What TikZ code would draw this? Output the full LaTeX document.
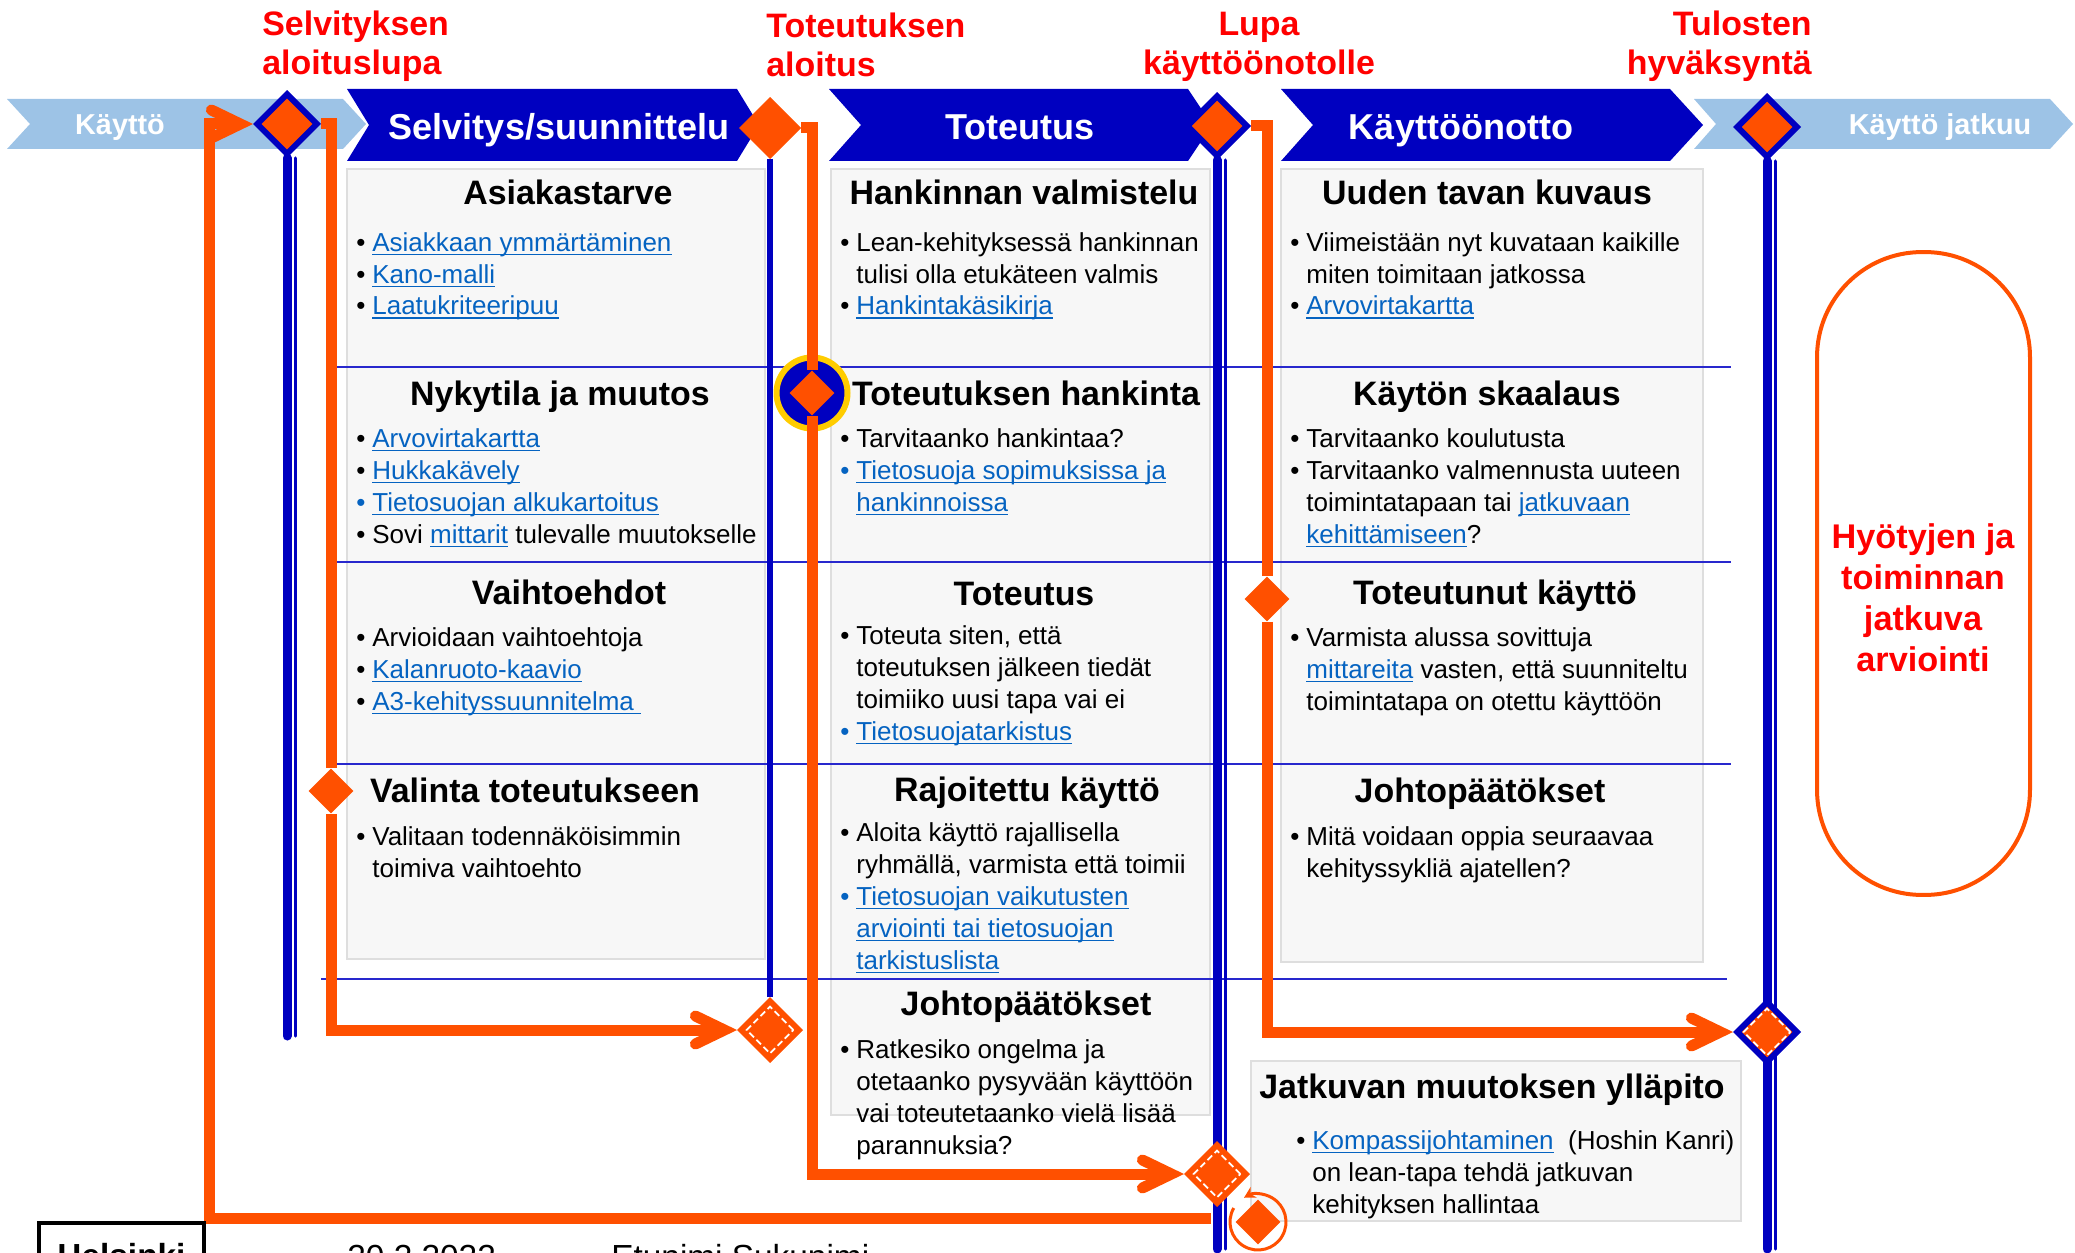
\documentclass[tikz,border=0pt]{standalone}
\usepackage{fontspec}
\setmainfont{Liberation Sans}
\usetikzlibrary{shapes.geometric,arrows.meta}
\pgfdeclarelayer{panels}
\pgfdeclarelayer{lines}
\pgfsetlayers{panels,lines,main}

\definecolor{navy}{RGB}{0,0,192}
\definecolor{skyband}{RGB}{157,195,230}
\definecolor{orng}{RGB}{255,80,0}
\definecolor{gold}{RGB}{255,204,0}
\definecolor{linkblue}{RGB}{5,99,193}
\definecolor{boxgray}{RGB}{247,247,247}
\definecolor{boxline}{RGB}{222,222,222}
\definecolor{sepblue}{RGB}{40,40,205}

\newcommand{\bodyfont}{\fontsize{14.8}{18.14}\selectfont}
\newcommand{\headfont}{\fontsize{19.3}{23}\selectfont\bfseries}
\newcommand{\tabfont}{\fontsize{20.5}{24}\selectfont\bfseries}
\newcommand{\bandfont}{\fontsize{16.4}{20}\selectfont\bfseries}
\newcommand{\gatefont}{\fontsize{19.3}{22.68}\selectfont\bfseries}
\newcommand{\evalfont}{\fontsize{19.5}{23.25}\selectfont\bfseries}
\newcommand{\footfont}{\fontsize{19}{23}\selectfont}
\newcommand{\itm}{\makebox[0.32cm][l]{\textbullet}}
\newcommand{\itmb}{\makebox[0.32cm][l]{\textcolor{linkblue}{\textbullet}}}
\newcommand{\cont}{\hspace*{0.32cm}}
\newsavebox{\lnkbox}
\newcommand{\lnk}[1]{\sbox{\lnkbox}{#1}\textcolor{linkblue}{\rlap{\rule[-0.08cm]{\wd\lnkbox}{0.03cm}}#1}}

\tikzset{
  panel/.style={fill=boxgray, draw=boxline, line width=0.04cm},
  rowline/.style={draw=sepblue, line width=0.04cm},
  panelhead/.style={font=\headfont, anchor=base, inner sep=0pt},
  panelitems/.style={font=\bodyfont, anchor=base west, align=left, inner sep=0pt},
  tabtext/.style={font=\tabfont, text=white, anchor=base, inner sep=0pt},
  bandtext/.style={font=\bandfont, text=white, anchor=base, inner sep=0pt},
  redlab/.style={font=\gatefont, text=red, inner sep=0pt},
  gate/.style={diamond, aspect=1, inner sep=0pt, minimum size=1.24cm, fill=orng, draw=navy, line width=0.12cm},
  gateplain/.style={gate, draw=orng, line width=0.02cm, minimum size=1.22cm},
  gatelow/.style={gate, draw=orng, line width=0.02cm, minimum size=1.3cm},
  dashin/.style={diamond, aspect=1, inner sep=0pt, minimum size=0.95cm, draw=white, line width=0.035cm, dash pattern=on 0.13cm off 0.07cm},
  knot/.style={diamond, aspect=1, inner sep=0pt, minimum size=0.9cm, fill=orng},
  halo/.style={circle, inner sep=0pt, minimum size=1.42cm, fill=navy, draw=gold, line width=0.12cm},
  rail/.style={draw=navy, line width=0.18cm, line cap=round,
    postaction={draw=navy, line width=0.06cm, transform canvas={xshift=0.16cm}}},
  flow/.style={draw=orng, line width=0.22cm},
  flowtip/.style={-{Straight Barb[length=0.58cm, width=0.56cm, line cap=round]}}
}

\begin{document}
\begin{tikzpicture}[x=0.02cm, y=-0.02cm]
\useasboundingbox (0,0) rectangle (2075,1253);

\begin{pgfonlayer}{panels}
  \fill[skyband] (7,99) -- (343,99) -- (366,124) -- (343,149) -- (7,149) -- (30,124) -- cycle;
  \fill[skyband] (1694,99) -- (2050,99) -- (2073,124) -- (2050,149) -- (1694,149) -- (1716,124) -- cycle;
  \fill[navy] (347,89) -- (737,89) -- (759,125) -- (737,161) -- (347,161) -- (369,125) -- cycle;
  \fill[navy] (829,89) -- (1188,89) -- (1212,125) -- (1188,161) -- (829,161) -- (861,125) -- cycle;
  \fill[navy] (1281,89) -- (1670,89) -- (1703,125) -- (1670,161) -- (1281,161) -- (1313,125) -- cycle;

  \filldraw[panel] (347,169) rectangle (765,959);
  \filldraw[panel] (831,169) rectangle (1210,1115);
  \filldraw[panel] (1281,169) rectangle (1703,962);
  \filldraw[panel] (1251,1061) rectangle (1741,1221);

  \draw[rowline] (331,367) -- (1731,367);
  \draw[rowline] (331,562) -- (1731,562);
  \draw[rowline] (331,764) -- (1731,764);
  \draw[rowline] (321,979) -- (1727,979);

  \node[draw=orng, line width=0.08cm, rounded corners=2.1cm, minimum width=4.26cm, minimum height=12.86cm, inner sep=0pt] (evalbox) at (1923.5,573.5) {};
\end{pgfonlayer}

\node[bandtext] (band1) at (120,135) {Käyttö};
\node[bandtext] (band2) at (1940,135) {Käyttö jatkuu};
\node[tabtext] (tab1) at (559,140) {Selvitys/suunnittelu};
\node[tabtext] (tab2) at (1020,140) {Toteutus};
\node[tabtext] (tab3) at (1461,140) {Käyttöönotto};

\node[redlab, anchor=base west, align=left] (lupa1) at (262,75) {Selvityksen\\aloituslupa};
\node[redlab, anchor=base west, align=left] (lupa2) at (766,77) {Toteutuksen\\aloitus};
\node[redlab, anchor=base, align=center] (lupa3) at (1259,75) {Lupa\\käyttöönotolle};
\node[redlab, anchor=base east, align=right] (lupa4) at (1812,75) {Tulosten\\hyväksyntä};

\node[panelhead] (asiak) at (568,205) {Asiakastarve};
\node[panelitems] (asiak-l) at (356,315) {\itm\lnk{Asiakkaan ymmärtäminen}\\\itm\lnk{Kano-malli}\\\itm\lnk{Laatukriteeripuu}};
\node[panelhead] (nyky) at (560,405) {Nykytila ja muutos};
\node[panelitems] (nyky-l) at (356,543) {\itm\lnk{Arvovirtakartta}\\\itm\lnk{Hukkakävely}\\\itmb\lnk{Tietosuojan alkukartoitus}\\\itm Sovi \lnk{mittarit} tulevalle muutokselle};
\node[panelhead] (vaiht) at (569,604) {Vaihtoehdot};
\node[panelitems] (vaiht-l) at (356,710) {\itm Arvioidaan vaihtoehtoja\\\itm\lnk{Kalanruoto-kaavio}\\\itm\lnk{A3-kehityssuunnitelma\mbox{\ }}};
\node[panelhead] (valinta) at (535,802) {Valinta toteutukseen};
\node[panelitems] (valinta-l) at (356,877) {\itm Valitaan todennäköisimmin\\\cont toimiva vaihtoehto};

\node[panelhead] (hankval) at (1024,205) {Hankinnan valmistelu};
\node[panelitems] (hankval-l) at (840,315) {\itm Lean-kehityksessä hankinnan\\\cont tulisi olla etukäteen valmis\\\itm\lnk{Hankintakäsikirja}};
\node[panelhead] (tothank) at (1026,405) {Toteutuksen hankinta};
\node[panelitems] (tothank-l) at (840,511) {\itm Tarvitaanko hankintaa?\\\itmb\lnk{Tietosuoja sopimuksissa ja}\\\cont\lnk{hankinnoissa}};
\node[panelhead] (toteutus) at (1024,605) {Toteutus};
\node[panelitems] (toteutus-l) at (840,740) {\itm Toteuta siten, että\\\cont toteutuksen jälkeen tiedät\\\cont toimiiko uusi tapa vai ei\\\itmb\lnk{Tietosuojatarkistus}};
\node[panelhead] (rajoit) at (1027,801) {Rajoitettu käyttö};
\node[panelitems] (rajoit-l) at (840,969) {\itm Aloita käyttö rajallisella\\\cont ryhmällä, varmista että toimii\\\itmb\lnk{Tietosuojan vaikutusten}\\\cont\lnk{arviointi tai tietosuojan}\\\cont\lnk{tarkistuslista}};
\node[panelhead] (johto1) at (1026,1015) {Johtopäätökset};
\node[panelitems] (johto1-l) at (840,1154) {\itm Ratkesiko ongelma ja\\\cont otetaanko pysyvään käyttöön\\\cont vai toteutetaanko vielä lisää\\\cont parannuksia?};

\node[panelhead] (uusi) at (1487,205) {Uuden tavan kuvaus};
\node[panelitems] (uusi-l) at (1290,315) {\itm Viimeistään nyt kuvataan kaikille\\\cont miten toimitaan jatkossa\\\itm\lnk{Arvovirtakartta}};
\node[panelhead] (skaal) at (1487,405) {Käytön skaalaus};
\node[panelitems] (skaal-l) at (1290,543) {\itm Tarvitaanko koulutusta\\\itm Tarvitaanko valmennusta uuteen\\\cont toimintatapaan tai \lnk{jatkuvaan}\\\cont\lnk{kehittämiseen}?};
\node[panelhead] (totkaytto) at (1495,604) {Toteutunut käyttö};
\node[panelitems] (totkaytto-l) at (1290,710) {\itm Varmista alussa sovittuja\\\cont\lnk{mittareita} vasten, että suunniteltu\\\cont toimintatapa on otettu käyttöön};
\node[panelhead] (johto2) at (1480,802) {Johtopäätökset};
\node[panelitems] (johto2-l) at (1290,877) {\itm Mitä voidaan oppia seuraavaa\\\cont kehityssykliä ajatellen?};

\node[panelhead] (jatk) at (1492,1098) {Jatkuvan muutoksen ylläpito};
\node[panelitems] (jatk-l) at (1296,1213) {\itm\lnk{Kompassijohtaminen}\ \ (Hoshin Kanri)\\\cont on lean-tapa tehdä jatkuvan\\\cont kehityksen hallintaa};

\node[font=\evalfont, text=red, align=center, anchor=base, inner sep=0pt] (evaltxt) at (1923,671) {Hyötyjen ja\\toiminnan\\jatkuva\\arviointi};

\node[gate] (d1) at (287,124) {};
\node[gateplain] (d2) at (770,128) {};
\node[gate] (d3) at (1217,126) {};
\node[gate] (d4) at (1767,127) {};
\node[gatelow] (l1) at (770,1030) {};
\node[dashin] (l1in) at (l1) {};
\node[gatelow] (l2) at (1217,1174) {};
\node[dashin] (l2in) at (l2) {};
\node[gate] (d5) at (1767,1032) {};
\node[dashin] (d5in) at (d5) {};
\node[knot] (m1) at (331,791) {};
\node[knot] (m2) at (812,393) {};
\node[knot] (m3) at (1267,599) {};
\node[knot] (cyc) at (1258,1222) {};
\draw[orng, line width=0.06cm, -{Stealth[length=0.22cm, width=0.24cm]}] (cyc.center) ++(150:0.56cm) arc[start angle=150, end angle=480, radius=0.56cm];

\coordinate (v1end) at (287,1036);
\coordinate (v3end) at (1217,1249);
\coordinate (v4end) at (1767,1249);
\coordinate (o1s) at (1211,1218);
\coordinate (o1c) at (209,1218);

\begin{pgfonlayer}{lines}
  \draw[rail] (d1) -- (v1end);
  \draw[navy, line width=0.12cm] (d2) -- (l1);
  \draw[rail] (d3) -- (v3end);
  \draw[rail] (d4) -- (v4end);
  \node[halo] (halo) at (m2) {};
  \draw[flow, flowtip] (d1) -| (m1) |- (l1.west);
  \draw[flow, flowtip] (d2) -| (m2) |- (l2.west);
  \draw[flow, flowtip] (d3) -| (m3) |- (d5.west);
  \draw[flow, flowtip] (o1s) -- (o1c) |- (d1.west);
\end{pgfonlayer}

\node[draw, line width=0.08cm, anchor=north west, minimum width=3.3cm, minimum height=1.3cm, font=\footfont\bfseries, inner sep=0pt] (place) at (37,1221) {Helsinki};
\node[font=\footfont, anchor=base west, inner sep=0pt] (date) at (347,1268) {20.2.2022};
\node[font=\footfont, anchor=base west, inner sep=0pt] (author) at (611,1268) {Etunimi Sukunimi};
\end{tikzpicture}
\end{document}
